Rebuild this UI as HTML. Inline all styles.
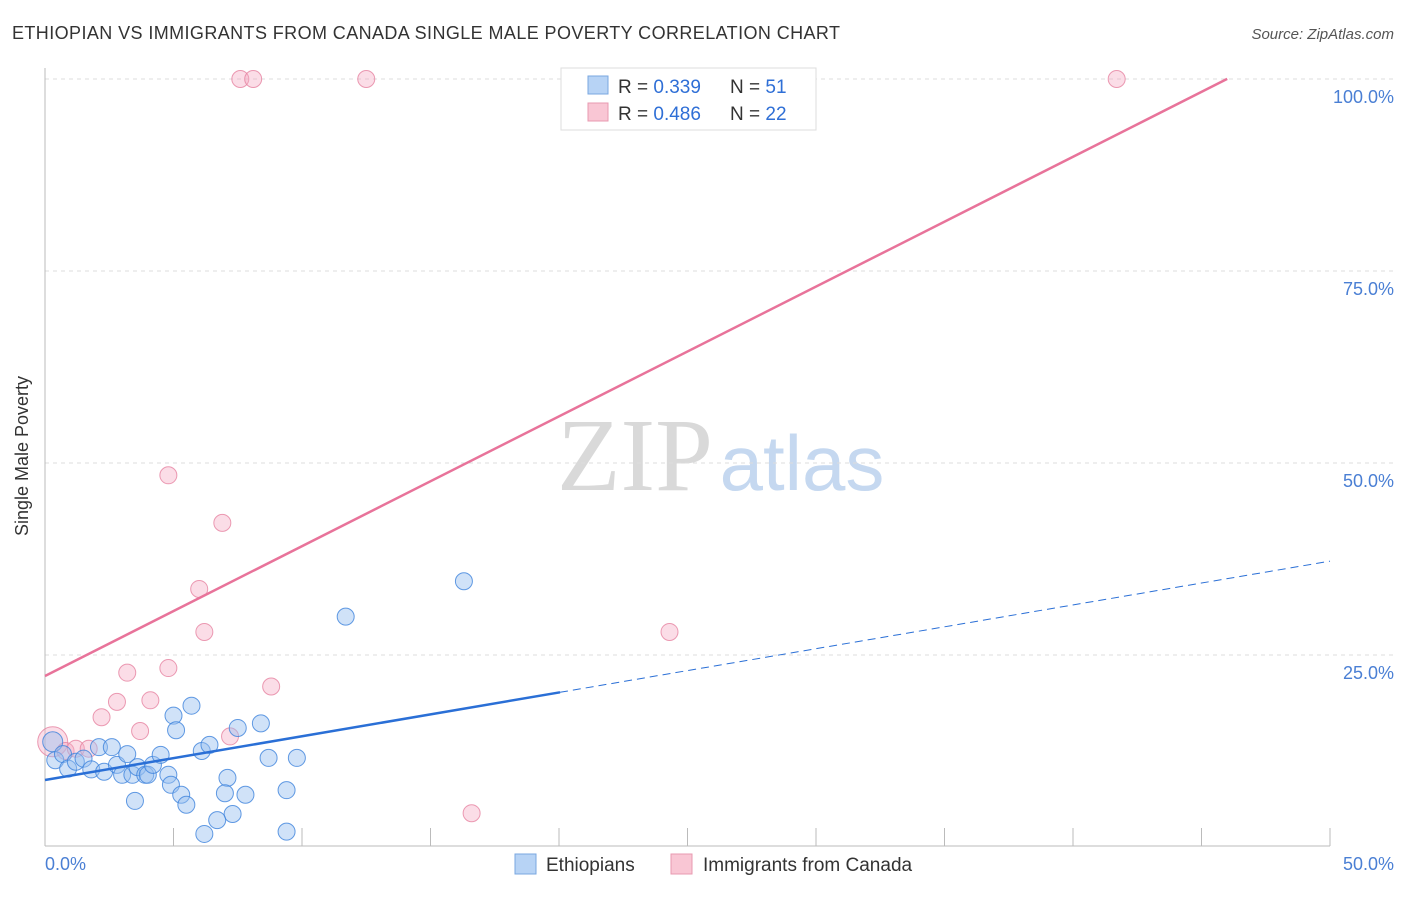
<!DOCTYPE html>
<html><head><meta charset="utf-8"><style>
body{margin:0;background:#fff;font-family:"Liberation Sans",sans-serif;}
</style></head><body>
<svg width="1406" height="892" xmlns="http://www.w3.org/2000/svg" font-family="Liberation Sans, sans-serif">
<text x="12" y="39" font-size="18" fill="#333" textLength="828">ETHIOPIAN VS IMMIGRANTS FROM CANADA SINGLE MALE POVERTY CORRELATION CHART</text>
<text x="1394" y="39" font-size="15" fill="#555" text-anchor="end" font-style="italic">Source: ZipAtlas.com</text>
<text x="635" y="490" font-size="104" fill="#d9d9d9" font-family="Liberation Serif, serif" text-anchor="middle">ZIP</text>
<text x="802" y="490" font-size="78" fill="#c5d8f0" text-anchor="middle">atlas</text>
<g id="grid"></g>
<line x1="45" y1="68" x2="45" y2="846" stroke="#bbb"/>
<line x1="45" y1="846" x2="1330" y2="846" stroke="#bbb"/>
<g id="ticks"></g>
<g id="marks"></g>
<g id="lines"></g>
<text x="28" y="456" font-size="18" fill="#333" text-anchor="middle" transform="rotate(-90 28 456)">Single Male Poverty</text>
<text x="45" y="870" font-size="18" fill="#4a7fd4">0.0%</text>
<text x="1394" y="870" font-size="18" fill="#4a7fd4" text-anchor="end">50.0%</text>
<g>
<rect x="561" y="68" width="255" height="62" fill="#fff" stroke="#ddd"/>
<rect x="588" y="76" width="20" height="18" fill="#b7d3f5" stroke="#7aa7e0"/>
<rect x="588" y="103" width="20" height="18" fill="#f9c6d4" stroke="#e89ab0"/>
<text x="618" y="93" font-size="19" fill="#333">R = <tspan fill="#2f6fd6">0.339</tspan><tspan x="730">N = </tspan><tspan fill="#2f6fd6">51</tspan></text>
<text x="618" y="120" font-size="19" fill="#333">R = <tspan fill="#2f6fd6">0.486</tspan><tspan x="730">N = </tspan><tspan fill="#2f6fd6">22</tspan></text>
</g>
<g><rect x="515" y="854" width="21" height="20" fill="#b7d3f5" stroke="#7aa7e0"/><text x="546" y="871" font-size="19" fill="#333">Ethiopians</text></g>
<g><rect x="671" y="854" width="21" height="20" fill="#f9c6d4" stroke="#e89ab0"/><text x="703" y="871" font-size="19" fill="#333">Immigrants from Canada</text></g>
</svg>
<script>
const yTicks=[25,50,75,100];
const yTickLabels=["25.0%","50.0%","75.0%","100.0%"];
const xTicks=[5,10,15,20,25,30,35,40,45,50];
const blueX=[0.3,0.4,0.7,0.9,1.2,1.5,1.8,2.1,2.3,2.6,2.8,3.0,3.2,3.4,3.6,3.5,3.9,4.0,4.2,4.5,5.0,5.1,4.8,4.9,5.3,5.5,5.7,6.1,6.4,7.1,7.0,7.8,7.5,8.4,8.7,9.8,9.4,7.3,6.7,6.2,9.4,11.7,16.3];
const blueY=[13.7,11.3,12.1,10.2,11.1,11.5,10.1,13.0,9.8,13.0,10.7,9.4,12.1,9.4,10.4,6.0,9.4,9.4,10.7,12.0,17.1,15.2,9.4,8.1,6.8,5.5,18.4,12.5,13.3,9.0,7.0,6.8,15.5,16.1,11.6,11.6,7.4,4.3,3.5,1.7,2.0,30.0,34.6];
const pinkX=[0.3,0.8,1.2,1.7,2.2,2.8,3.2,3.7,4.1,4.8,7.2,8.8,6.0,6.2,6.9,4.8,7.6,8.1,12.5,41.7,24.3,16.6];
const pinkY=[13.7,12.5,12.8,12.8,16.9,18.9,22.7,15.1,19.1,23.3,14.4,20.9,33.6,28.0,42.2,48.4,100,100,100,100,28.0,4.4];
const pinkFit=[22.27,1.69];
const blueFit=[8.72,0.57];
const blueSolidEnd=20.04;
const pinkEnd=46.0;
const NS="http://www.w3.org/2000/svg";
const X=v=>45+v/50*1285, Y=v=>847-v*7.68;
function mk(t,a,p){const e=document.createElementNS(NS,t);for(const k in a)e.setAttribute(k,a[k]);p.appendChild(e);return e;}
const grid=document.getElementById('grid'),ticks=document.getElementById('ticks'),marks=document.getElementById('marks'),lines=document.getElementById('lines');
yTicks.forEach((v,i)=>{
 const l=mk('line',{x1:45,x2:1394,y1:Y(v),y2:Y(v),stroke:'#ddd','stroke-dasharray':'4,4'},grid);
 
 
 const t=mk('text',{x:1394,y:Y(v)+24,'font-size':18,fill:'#4a7fd4','text-anchor':'end'},grid);
 t.textContent=yTickLabels[i];
 
 
});
xTicks.forEach(v=>{
 const l=mk('line',{x1:X(v),x2:X(v),y1:828,y2:846,stroke:'#bbb'},ticks);
 
 
});
pinkX.forEach((x,i)=>{
 const c=mk('circle',{cx:X(x),cy:Y(pinkY[i]),r:i==0?15:8.5,fill:'rgba(246,170,195,0.4)',stroke:'rgba(230,130,160,0.8)'},marks);
 
 
});
blueX.forEach((x,i)=>{
 const c=mk('circle',{cx:X(x),cy:Y(blueY[i]),r:i==0?10:8.5,fill:'rgba(150,190,240,0.45)',stroke:'rgba(60,130,220,0.8)'},marks);
 
 
});
let l=mk('line',{x1:X(0),y1:Y(pinkFit[0]),x2:X(pinkEnd),y2:Y(pinkFit[0]+pinkFit[1]*pinkEnd),stroke:'#e8739a','stroke-width':2.5},lines);


l=mk('line',{x1:X(0),y1:Y(blueFit[0]),x2:X(blueSolidEnd),y2:Y(blueFit[0]+blueFit[1]*blueSolidEnd),stroke:'#2a6fd6','stroke-width':2.5},lines);


l=mk('line',{x1:X(blueSolidEnd),y1:Y(blueFit[0]+blueFit[1]*blueSolidEnd),x2:X(50),y2:Y(blueFit[0]+blueFit[1]*50),stroke:'#2a6fd6','stroke-width':1,'stroke-dasharray':'8,5'},lines);


</script>
</body></html>
